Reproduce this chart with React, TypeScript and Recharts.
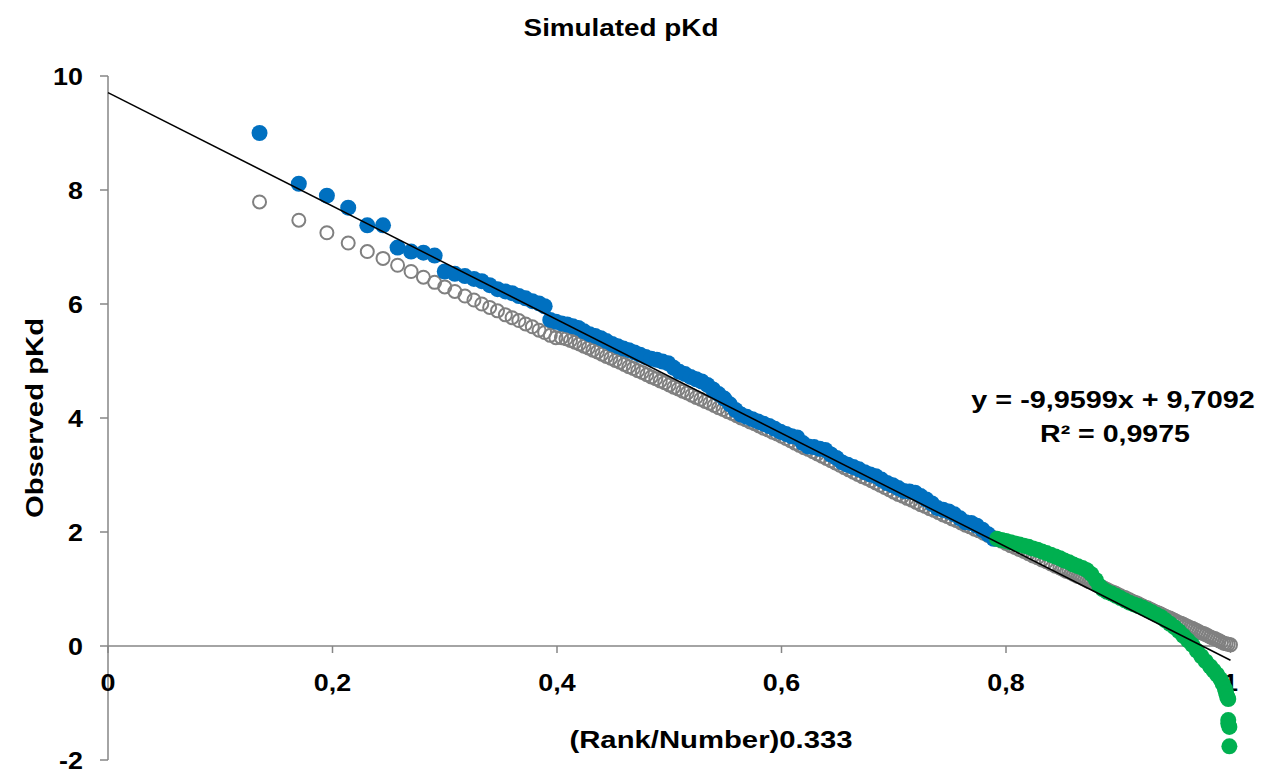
import React from 'react'
import { ScatterChart, Scatter, XAxis, YAxis, ReferenceLine, ReferenceDot } from 'recharts'

// ─── Data ───────────────────────────────────────────────────────

const X_TICKS = [0, 0.2, 0.4, 0.6, 0.8, 1]
const Y_TICKS = [-2, 0, 2, 4, 6, 8, 10]

// simulated pKd, grey rings: [(rank/number)^0.333, pKd]
const simulated: [number, number][] = [
  [0.135, 7.79], [0.170, 7.47], [0.195, 7.25], [0.214, 7.07], [0.231, 6.92], [0.245, 6.80], [0.258, 6.68],
  [0.270, 6.57], [0.281, 6.47], [0.291, 6.38], [0.300, 6.30], [0.309, 6.22], [0.318, 6.14], [0.326, 6.07],
  [0.333, 6.00], [0.340, 5.94], [0.347, 5.88], [0.354, 5.81], [0.360, 5.76], [0.366, 5.71], [0.372, 5.65],
  [0.378, 5.60], [0.384, 5.54], [0.389, 5.50], [0.394, 5.45], [0.399, 5.41],
  [0.404, 5.41], [0.408, 5.39], [0.412, 5.36], [0.416, 5.33], [0.420, 5.30], [0.424, 5.26], [0.428, 5.23],
  [0.432, 5.19], [0.436, 5.16], [0.440, 5.12], [0.444, 5.08], [0.448, 5.05], [0.452, 5.01], [0.456, 4.98],
  [0.460, 4.94], [0.464, 4.90], [0.468, 4.87], [0.472, 4.83], [0.476, 4.80], [0.480, 4.76], [0.484, 4.72],
  [0.488, 4.69], [0.492, 4.65], [0.496, 4.62], [0.500, 4.58], [0.504, 4.54], [0.508, 4.51], [0.512, 4.47],
  [0.516, 4.44], [0.520, 4.40], [0.524, 4.36], [0.528, 4.33], [0.532, 4.29], [0.536, 4.26], [0.540, 4.22],
  [0.544, 4.18], [0.548, 4.15],
  [0.552, 4.11], [0.556, 4.08], [0.560, 4.04], [0.564, 4.00], [0.568, 3.97], [0.572, 3.93], [0.576, 3.90],
  [0.580, 3.86], [0.584, 3.82], [0.588, 3.79], [0.592, 3.75], [0.596, 3.72], [0.600, 3.68], [0.604, 3.64],
  [0.608, 3.60], [0.612, 3.56], [0.616, 3.52], [0.620, 3.48], [0.624, 3.45], [0.628, 3.41], [0.632, 3.37],
  [0.636, 3.33], [0.640, 3.29], [0.644, 3.25], [0.648, 3.21], [0.652, 3.17], [0.656, 3.13], [0.660, 3.09],
  [0.664, 3.05], [0.668, 3.01], [0.672, 2.97], [0.676, 2.94], [0.680, 2.90], [0.684, 2.86], [0.688, 2.82],
  [0.692, 2.78], [0.696, 2.74], [0.700, 2.70], [0.704, 2.66], [0.708, 2.63], [0.712, 2.59], [0.716, 2.56],
  [0.720, 2.52], [0.724, 2.48], [0.728, 2.45], [0.732, 2.41], [0.736, 2.38], [0.740, 2.34], [0.744, 2.30],
  [0.748, 2.27], [0.752, 2.23], [0.756, 2.20], [0.760, 2.16], [0.764, 2.12], [0.768, 2.09], [0.772, 2.05],
  [0.776, 2.02], [0.780, 1.98], [0.784, 1.94], [0.788, 1.91], [0.792, 1.87], [0.796, 1.84], [0.800, 1.80],
  [0.804, 1.76], [0.808, 1.73], [0.812, 1.69], [0.816, 1.66], [0.820, 1.62], [0.824, 1.58], [0.828, 1.55],
  [0.832, 1.51], [0.836, 1.48], [0.840, 1.44], [0.844, 1.40], [0.848, 1.37],
  [0.850, 1.35], [0.852, 1.33], [0.854, 1.31], [0.856, 1.30], [0.858, 1.28], [0.860, 1.26], [0.862, 1.24],
  [0.864, 1.22], [0.866, 1.21], [0.868, 1.19], [0.870, 1.17], [0.872, 1.15], [0.874, 1.13], [0.876, 1.12],
  [0.878, 1.10], [0.880, 1.08], [0.882, 1.06], [0.884, 1.04], [0.886, 1.03], [0.888, 1.01], [0.890, 0.99],
  [0.892, 0.97], [0.894, 0.95], [0.896, 0.94], [0.898, 0.92], [0.900, 0.90], [0.902, 0.88], [0.904, 0.86],
  [0.906, 0.85], [0.908, 0.83], [0.910, 0.81], [0.912, 0.79], [0.914, 0.77], [0.916, 0.76], [0.918, 0.74],
  [0.920, 0.72], [0.922, 0.70], [0.924, 0.68], [0.926, 0.67], [0.928, 0.65], [0.930, 0.63], [0.932, 0.61],
  [0.934, 0.59], [0.936, 0.58], [0.938, 0.56], [0.940, 0.54], [0.942, 0.52], [0.944, 0.50], [0.946, 0.49],
  [0.948, 0.47], [0.950, 0.45], [0.952, 0.43], [0.954, 0.41], [0.956, 0.40], [0.958, 0.38], [0.960, 0.36],
  [0.962, 0.34], [0.964, 0.32], [0.966, 0.31], [0.968, 0.29], [0.970, 0.27], [0.972, 0.25], [0.974, 0.23],
  [0.976, 0.22], [0.978, 0.20], [0.980, 0.18], [0.982, 0.16], [0.984, 0.14], [0.986, 0.13], [0.988, 0.11],
  [0.990, 0.09], [0.992, 0.07], [0.994, 0.05], [0.996, 0.04], [0.998, 0.03], [1.000, 0.02],
]

// observed pKd, upper part (blue)
const observedBlue: [number, number][] = [
  [0.135, 9.00], [0.170, 8.11], [0.195, 7.90], [0.214, 7.69], [0.231, 7.38], [0.245, 7.38], [0.258, 6.99],
  [0.270, 6.92], [0.281, 6.90], [0.291, 6.85], [0.300, 6.57], [0.309, 6.53], [0.318, 6.49], [0.326, 6.44],
  [0.333, 6.40], [0.340, 6.33], [0.347, 6.26], [0.354, 6.22], [0.360, 6.19], [0.366, 6.14], [0.372, 6.10],
  [0.378, 6.05], [0.384, 6.01], [0.389, 5.96], [0.394, 5.72], [0.399, 5.69],
  [0.404, 5.66], [0.409, 5.64], [0.414, 5.61], [0.419, 5.58], [0.424, 5.52], [0.429, 5.47], [0.434, 5.44],
  [0.439, 5.40], [0.444, 5.35], [0.449, 5.30], [0.454, 5.26], [0.459, 5.22], [0.464, 5.19], [0.469, 5.15],
  [0.474, 5.11], [0.479, 5.07], [0.484, 5.04], [0.489, 5.02], [0.494, 4.99], [0.499, 4.96], [0.504, 4.88],
  [0.509, 4.81], [0.514, 4.77], [0.519, 4.72], [0.524, 4.68], [0.529, 4.64], [0.534, 4.58], [0.539, 4.50],
  [0.544, 4.42], [0.549, 4.34], [0.554, 4.24], [0.559, 4.14], [0.564, 4.06], [0.569, 4.02], [0.574, 3.98],
  [0.579, 3.94], [0.584, 3.90], [0.589, 3.86], [0.594, 3.81], [0.599, 3.76], [0.604, 3.72], [0.609, 3.68],
  [0.614, 3.66], [0.619, 3.56], [0.624, 3.50], [0.629, 3.49], [0.634, 3.46], [0.639, 3.44], [0.644, 3.36],
  [0.649, 3.30], [0.654, 3.22], [0.659, 3.18], [0.664, 3.14], [0.669, 3.10], [0.674, 3.05], [0.679, 3.01],
  [0.684, 2.98], [0.689, 2.92], [0.694, 2.86], [0.699, 2.82], [0.704, 2.77], [0.709, 2.72], [0.714, 2.71],
  [0.719, 2.69], [0.724, 2.63], [0.729, 2.57], [0.734, 2.50], [0.739, 2.42], [0.744, 2.39], [0.749, 2.36],
  [0.754, 2.31], [0.759, 2.24], [0.764, 2.17], [0.769, 2.16], [0.774, 2.11], [0.779, 2.04], [0.784, 1.96],
  [0.789, 1.88],
]

// observed pKd, lower tail (green)
const observedGreen: [number, number][] = [
  [0.792, 1.88], [0.796, 1.86], [0.800, 1.84], [0.804, 1.82], [0.808, 1.80], [0.812, 1.78], [0.816, 1.76],
  [0.820, 1.74], [0.824, 1.71], [0.828, 1.69], [0.832, 1.66], [0.836, 1.63], [0.840, 1.60], [0.844, 1.57],
  [0.848, 1.54], [0.852, 1.50], [0.856, 1.47], [0.860, 1.43], [0.864, 1.40], [0.868, 1.37], [0.872, 1.33],
  [0.876, 1.26], [0.880, 1.16], [0.883, 1.06], [0.886, 1.00], [0.890, 0.95], [0.894, 0.92], [0.898, 0.88],
  [0.902, 0.84], [0.906, 0.80], [0.910, 0.76], [0.914, 0.73], [0.918, 0.70], [0.922, 0.67], [0.926, 0.63],
  [0.930, 0.59], [0.934, 0.55], [0.938, 0.51], [0.942, 0.45], [0.946, 0.39], [0.950, 0.33], [0.954, 0.26],
  [0.958, 0.18], [0.962, 0.10], [0.966, 0.02], [0.970, -0.08], [0.974, -0.18], [0.978, -0.27], [0.982, -0.36],
  [0.985, -0.43], [0.988, -0.50], [0.991, -0.58], [0.993, -0.66], [0.995, -0.75], [0.996, -0.82], [0.997, -0.89],
  [0.998, -0.93], [0.998, -1.30], [0.998, -1.36], [0.999, -1.42], [0.999, -1.76],
]

// linear trendline shown on the chart
const TREND_SLOPE = -9.9599
const TREND_INTERCEPT = 9.7092
const TREND_R2 = 0.9975

// ─── Styling ────────────────────────────────────────────────────

const W = 1265
const H = 773
const FONT = '"Liberation Sans", Arial, Helvetica, sans-serif'
const AXIS = '#868686'
const BLUE = '#0070C0'
const GREEN = '#00B050'
const GREY = '#808080'

const fmtComma = (v: number) => String(v).replace('.', ',')
const toPoints = (arr: [number, number][]) => arr.map(([x, y]) => ({ x, y }))

// the reference text is wider than plain Arial Bold, so stretch it horizontally
function WideText({ x, y, sx = 1.2, anchor = 'middle', rotate = 0, children }: any) {
  return (
    <g transform={`translate(${x} ${y}) rotate(${rotate}) scale(${sx} 1)`}>
      <text x={0} y={0} textAnchor={anchor} fontFamily={FONT} fontWeight={700} fontSize={24} fill="#000">
        {children}
      </text>
    </g>
  )
}

function YTick({ x, y, payload }: any) {
  return <WideText x={x} y={y + 8.5} sx={1.12} anchor="end">{fmtComma(payload.value)}</WideText>
}

// x axis sits at y = 0, so its ticks are drawn as reference dots on that line
function XTick({ cx, cy, value }: any) {
  return (
    <g>
      <line x1={cx} y1={cy} x2={cx} y2={cy + 7} stroke={AXIS} strokeWidth={1.5} />
      <WideText x={cx} y={cy + 45} sx={1.12}>{fmtComma(value)}</WideText>
    </g>
  )
}

const Ring = ({ cx, cy }: any) => <circle cx={cx} cy={cy} r={6.5} fill="none" stroke={GREY} strokeWidth={2} />
const dot = (color: string) => ({ cx, cy }: any) => <circle cx={cx} cy={cy} r={8} fill={color} />

export default function App() {
  const trend = [
    { x: 0, y: TREND_INTERCEPT },
    { x: 1, y: TREND_INTERCEPT + TREND_SLOPE },
  ]
  const eq = `y = ${TREND_SLOPE.toFixed(4).replace('.', ',')}x + ${TREND_INTERCEPT.toFixed(4).replace('.', ',')}`
  const r2 = `R² = ${TREND_R2.toFixed(4).replace('.', ',')}`

  return (
    <div style={{ position: 'absolute', left: 0, top: 0, width: W, height: H, background: '#fff' }}>
      <ScatterChart width={W} height={H} margin={{ top: 76, right: 34.5, bottom: 13, left: 0 }}>
        <XAxis type="number" dataKey="x" domain={[0, 1]} hide />
        <YAxis
          type="number"
          dataKey="y"
          domain={[-2, 10]}
          ticks={Y_TICKS}
          width={108}
          tickSize={8}
          tickMargin={17}
          axisLine={{ stroke: AXIS, strokeWidth: 1.5 }}
          tickLine={{ stroke: AXIS, strokeWidth: 1.5 }}
          tick={<YTick />}
        />
        <ReferenceLine y={0} stroke={AXIS} strokeWidth={1.5} />
        {X_TICKS.map((v) => (
          <ReferenceDot
            key={v}
            x={v}
            y={0}
            r={0}
            ifOverflow="visible"
            shape={(p: any) => <XTick cx={p.cx} cy={p.cy} value={v} />}
          />
        ))}
        <Scatter name="Simulated" data={toPoints(simulated)} shape={<Ring />} isAnimationActive={false} />
        <Scatter name="Observed" data={toPoints(observedBlue)} shape={dot(BLUE)} isAnimationActive={false} />
        <Scatter name="Observed tail" data={toPoints(observedGreen)} shape={dot(GREEN)} isAnimationActive={false} />
        <Scatter
          name="Linear fit"
          data={trend}
          line={{ stroke: '#000', strokeWidth: 1.5 }}
          shape={() => <g />}
          isAnimationActive={false}
        />
      </ScatterChart>

      {/* titles and the trendline label */}
      <svg width={W} height={H} style={{ position: 'absolute', left: 0, top: 0, pointerEvents: 'none' }}>
        <WideText x={621} y={36} sx={1.16}>Simulated pKd</WideText>
        <WideText x={43} y={418} sx={1.22} rotate={-90}>Observed pKd</WideText>
        <WideText x={711} y={748} sx={1.22}>(Rank/Number)0.333</WideText>
        <WideText x={1113} y={408} sx={1.2}>{eq}</WideText>
        <WideText x={1115} y={442} sx={1.19}>{r2}</WideText>
      </svg>
    </div>
  )
}
